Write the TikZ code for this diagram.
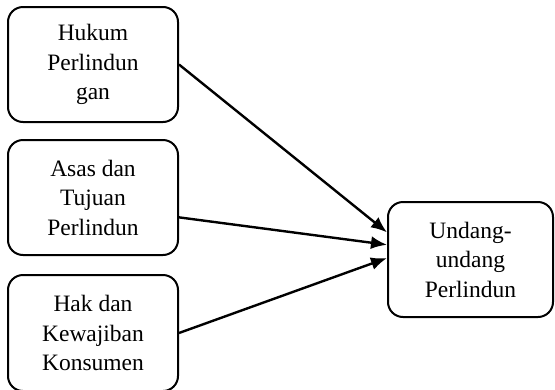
\documentclass[tikz,border=0pt]{standalone}
\usepackage{fontspec}
\setmainfont{Liberation Serif}
\usetikzlibrary{calc, positioning, arrows.meta}
\tikzstyle{konsep}=[draw, line width=2pt, rounded corners=15pt, align=center, inner sep=0pt, font=\fontsize{23.5}{29.5}\selectfont]

\begin{document}
\begin{tikzpicture}[x=1pt, y=-1pt, >={Latex[length=16pt,width=13pt]}]
		\useasboundingbox (0,0) rectangle (555,389);
		\node[konsep, minimum width=170pt, minimum height=115pt] (hukum) at (93,64.5) {Hukum\\Perlindun\\gan};
		\node[konsep, minimum width=170pt, minimum height=115pt] (asas) at (93,197.5) {Asas dan\\Tujuan\\Perlindun};
		\node[konsep, minimum width=170pt, minimum height=116pt] (hak) at (93,333) {Hak dan\\Kewajiban\\Konsumen};
		\node[konsep, minimum width=165pt, minimum height=115pt] (uu) at (470.5,259.5) {Undang-\\undang\\Perlindun};
		\draw[->, line width=2.4pt] (hukum.east) -- (uu.162);
		\draw[->, line width=2.4pt] (asas.-13) -- (uu.170);
		\draw[->, line width=2.4pt] (hak.east) -- (uu.179);
	\end{tikzpicture}
\end{document}
